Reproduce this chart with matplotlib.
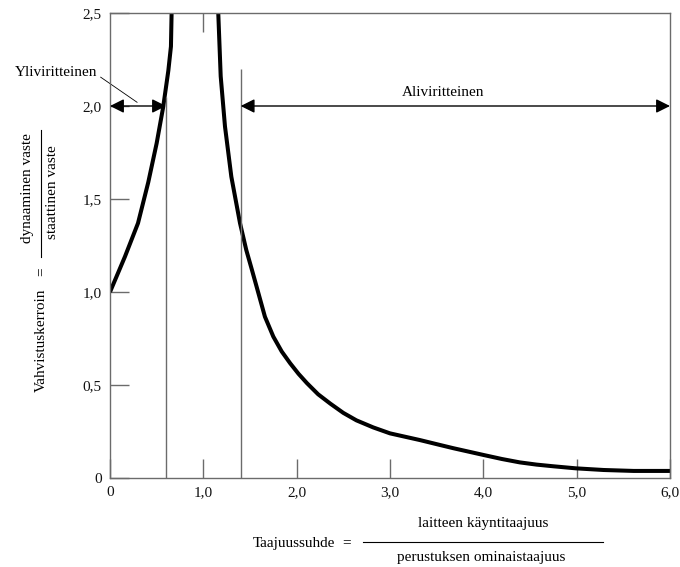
import matplotlib
matplotlib.use("Agg")
import matplotlib.pyplot as plt
from matplotlib.lines import Line2D

# Vahvistuskerroin taajuussuhteen funktiona (luettu käsin piirretystä käyrästä)
r_below = [0.0, 0.08, 0.16, 0.30, 0.41, 0.50, 0.57, 0.625, 0.653, 0.66]
amp_below = [1.0, 1.095, 1.19, 1.37, 1.59, 1.80, 1.995, 2.19, 2.32, 2.5]

r_above = [1.16, 1.186, 1.232, 1.30, 1.393, 1.46, 1.52, 1.57, 1.66, 1.75,
           1.84, 1.93, 2.02, 2.11, 2.23, 2.36, 2.50, 2.64, 2.82, 3.0,
           3.16, 3.32, 3.54, 3.68, 3.84, 4.0, 4.2, 4.39, 4.57, 4.75,
           4.99, 5.29, 5.61, 6.0]
amp_above = [2.5, 2.16, 1.89, 1.62, 1.37, 1.226, 1.12, 1.03, 0.867, 0.76,
             0.68, 0.617, 0.56, 0.51, 0.45, 0.40, 0.35, 0.31, 0.272, 0.24,
             0.222, 0.204, 0.177, 0.16, 0.142, 0.124, 0.102, 0.084, 0.072, 0.063,
             0.052, 0.043, 0.038, 0.038]

# alueiden rajat ja rajaviivojen korkeudet
bound_r = [0.6, 1.4]
bound_top = [2.05, 2.2]

x_ticks = [0, 1, 2, 3, 4, 5, 6]
x_labels = ["0", "1,0", "2,0", "3,0", "4,0", "5,0", "6,0"]
y_ticks = [0, 0.5, 1.0, 1.5, 2.0, 2.5]
y_labels = ["0", "0,5", "1,0", "1,5", "2,0", "2,5"]

SERIF = "Liberation Serif"
GREY = "#6b6b6b"
FS = 11

plt.rcParams["font.family"] = SERIF

fig = plt.figure(figsize=(6.8, 5.67), dpi=100)
ax = fig.add_axes([110 / 680, 1 - 478 / 567, 560 / 680, 465 / 567])

ax.plot(r_below, amp_below, color="black", lw=2.9, solid_joinstyle="round",
        solid_capstyle="butt")
ax.plot(r_above, amp_above, color="black", lw=2.9, solid_joinstyle="round",
        solid_capstyle="butt")

ax.vlines(bound_r, 0, bound_top, color=GREY, lw=1.0)

ax.set_xlim(0, 6)
ax.set_ylim(0, 2.5)
for s in ax.spines.values():
    s.set_color(GREY)
    s.set_linewidth(1.0)

ax.set_xticks(x_ticks)
ax.set_xticklabels(x_labels, fontsize=FS)
ax.set_yticks(y_ticks)
ax.set_yticklabels(y_labels, fontsize=FS)
ax.tick_params(axis="both", direction="in", length=14, width=1.0,
               color=GREY, labelcolor="#111111")
ax.tick_params(axis="x", pad=6)
ax.tick_params(axis="y", pad=6)

top = ax.secondary_xaxis("top")
top.set_xticks([1.0])
top.set_xticklabels([])
top.tick_params(direction="in", length=14, width=1.0, color=GREY)
top.spines["top"].set_visible(False)

# kaksipäiset nuolet: yli- ja aliviritteinen alue
arrow = dict(arrowstyle="<|-|>", mutation_scale=21, color="black", lw=1.0,
             shrinkA=0, shrinkB=0)
ax.annotate("", xy=(bound_r[0], 2.0), xytext=(0, 2.0), arrowprops=arrow)
ax.annotate("", xy=(6.0, 2.0), xytext=(bound_r[1], 2.0), arrowprops=arrow,
            annotation_clip=False)

ax.text(3.57, 2.075, "Aliviritteinen", fontsize=FS, ha="center", va="center")
ax.text(-0.13, 2.18, "Yliviritteinen", fontsize=FS, ha="right", va="center",
        clip_on=False)
ax.plot([-0.10, 0.29], [2.155, 2.02], color="black", lw=0.6, clip_on=False)

# pystyakselin selite murtolukuna
fig.text(41 / 680, 1 - 340 / 567, "Vahvistuskerroin", rotation=90,
         fontsize=FS, ha="center", va="center")
fig.text(41 / 680, 1 - 272 / 567, "=", rotation=90,
         fontsize=FS, ha="center", va="center")
fig.text(28 / 680, 1 - 188 / 567, "dynaaminen vaste", rotation=90,
         fontsize=FS, ha="center", va="center")
fig.text(53 / 680, 1 - 192 / 567, "staattinen vaste", rotation=90,
         fontsize=FS, ha="center", va="center")
fig.add_artist(Line2D([41 / 680, 41 / 680], [1 - 257 / 567, 1 - 130 / 567],
                      color="black", lw=0.8))

# vaaka-akselin selite
fig.text(253 / 680, 1 - 543 / 567, "Taajuussuhde", fontsize=FS,
         ha="left", va="center")
fig.text(347 / 680, 1 - 543 / 567, "=", fontsize=FS, ha="center", va="center")
fig.text(483 / 680, 1 - 524 / 567, "laitteen käyntitaajuus", fontsize=FS,
         ha="center", va="center")
fig.text(481 / 680, 1 - 558 / 567, "perustuksen ominaistaajuus", fontsize=FS,
         ha="center", va="center")
fig.add_artist(Line2D([363 / 680, 603 / 680], [1 - 542 / 567, 1 - 542 / 567],
                      color="black", lw=0.8))

fig.savefig("out.png", dpi=100)
